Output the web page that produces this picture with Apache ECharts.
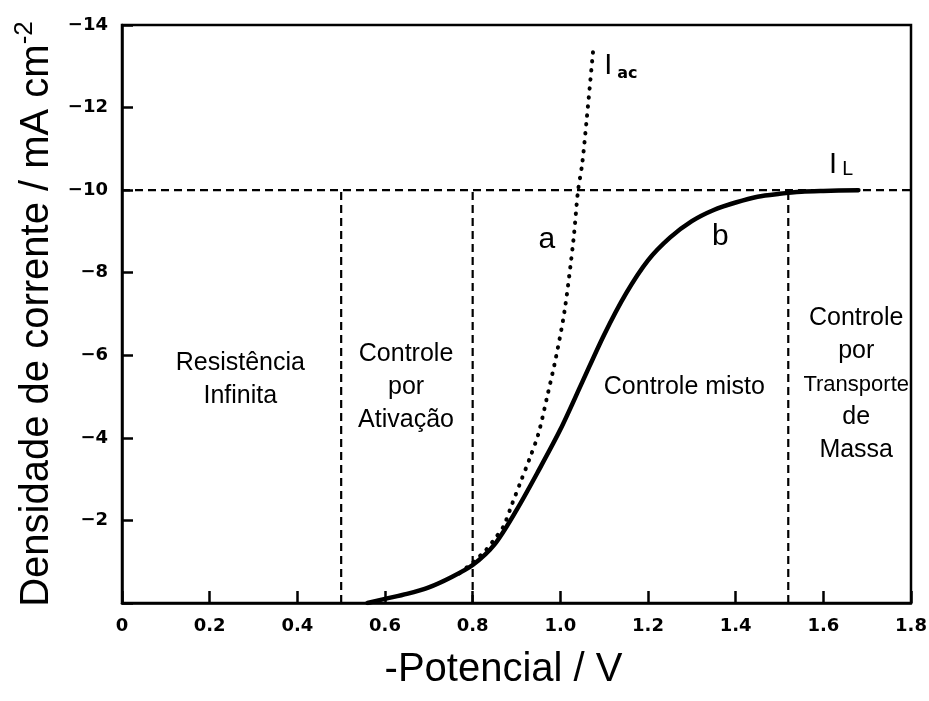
<!DOCTYPE html>
<html>
<head>
<meta charset="utf-8">
<script src="https://cdn.jsdelivr.net/npm/echarts@6/dist/echarts.min.js"></script>
<style>
  html, body { margin: 0; padding: 0; background: #fff; }
  #chart { width: 929px; height: 701px; }
</style>
</head>
<body>
<div id="chart"></div>
<script>
// ---- data ----
const solidX = [0.56, 0.60, 0.65, 0.70, 0.75, 0.80, 0.85, 0.90, 0.95, 1.00, 1.05, 1.10, 1.15, 1.20, 1.25, 1.30, 1.35, 1.40, 1.45, 1.50, 1.55, 1.60, 1.68];
const solidY = [0, -0.10, -0.22, -0.38, -0.62, -0.92, -1.42, -2.25, -3.20, -4.20, -5.35, -6.50, -7.50, -8.30, -8.85, -9.25, -9.52, -9.70, -9.84, -9.91, -9.96, -9.98, -10.0];

const dotX = [0.77, 0.80, 0.83, 0.85, 0.87, 0.89, 0.91, 0.93, 0.95, 0.97, 0.99, 1.01, 1.03, 1.04, 1.05, 1.06, 1.075];
const dotY = [-0.72, -0.98, -1.28, -1.55, -1.85, -2.40, -2.95, -3.50, -4.10, -5.00, -5.95, -7.10, -8.80, -9.95, -10.65, -11.70, -13.40];

const boundaries = [0.5, 0.8, 1.52];   // vertical dashed lines (V)
const limitCurrent = -10;              // horizontal dashed line (mA cm-2)

const xTicks = [0, 0.2, 0.4, 0.6, 0.8, 1.0, 1.2, 1.4, 1.6, 1.8];
const xTickLabels = ['0', '0.2', '0.4', '0.6', '0.8', '1.0', '1.2', '1.4', '1.6', '1.8'];
const yTicks = [0, -2, -4, -6, -8, -10, -12, -14];
const yTickLabels = ['', '\u22122', '\u22124', '\u22126', '\u22128', '\u221210', '\u221212', '\u221214'];

const regionTexts = ['Resistência\nInfinita', 'Controle\npor\nAtivação', 'Controle misto', 'Controle\npor\n{t|Transporte}\nde\nMassa'];
const regionX = [0.27, 0.648, 1.283, 1.675];
const regionY = [-5.41, -5.22, -5.22, -5.29];

const letterTexts = ['a', 'b'];
const letterX = [0.969, 1.365];
const letterY = [-8.81, -8.88];

// ---- chart ----
const chart = echarts.init(document.getElementById('chart'), null, { renderer: 'canvas' });

const zip = (xs, ys) => xs.map((x, i) => [x, ys[i]]);
const dashStyle = { color: '#000', width: 2.2, type: [8, 5] };
const textBase = { show: true, position: 'inside', color: '#000', textBorderWidth: 0, textShadowBlur: 0 };
const textItem = { color: '#000', opacity: 1 };

const series = [];
series.push({
  type: 'line', data: [[0, limitCurrent], [1.8, limitCurrent]],
  symbol: 'none', lineStyle: dashStyle, silent: true, z: 2
});
boundaries.forEach(b => series.push({
  type: 'line', data: [[b, 0], [b, limitCurrent]],
  symbol: 'none', lineStyle: dashStyle, silent: true, z: 2
}));
series.push({
  type: 'line', data: zip(dotX, dotY), smooth: 0.3, symbol: 'none',
  lineStyle: { color: '#000', width: 4, type: [0.5, 8.5], cap: 'round' }, z: 3
});
series.push({
  type: 'line', data: zip(solidX, solidY), smooth: 0.3, symbol: 'none',
  lineStyle: { color: '#000', width: 4.5, cap: 'round', join: 'round' }, z: 4
});
series.push({
  type: 'scatter', symbolSize: 0, silent: true, z: 5,
  itemStyle: textItem,
  data: regionTexts.map((t, i) => ({ value: [regionX[i], regionY[i]], name: t })),
  label: Object.assign({}, textBase, {
    formatter: p => p.name,
    fontFamily: 'Liberation Sans, Arial, sans-serif', fontSize: 25,
    lineHeight: 33, align: 'center',
    rich: { t: { fontFamily: 'Liberation Sans, Arial, sans-serif', fontSize: 22, lineHeight: 33, color: '#000' } }
  })
});
series.push({
  type: 'scatter', symbolSize: 0, silent: true, z: 5,
  itemStyle: textItem,
  data: letterTexts.map((t, i) => ({ value: [letterX[i], letterY[i]], name: t })),
  label: Object.assign({}, textBase, {
    formatter: p => p.name,
    fontFamily: 'Liberation Sans, Arial, sans-serif', fontSize: 30
  })
});
series.push({
  type: 'scatter', symbolSize: 0, silent: true, z: 5,
  itemStyle: textItem,
  data: [
    { value: [1.138, -13.0], name: '{i|I}{s|ac}' },
    { value: [1.64, -10.62], name: '{i|I}{l|L}' }
  ],
  label: Object.assign({}, textBase, {
    formatter: p => p.name,
    rich: {
      i: { fontFamily: 'Liberation Sans, Arial, sans-serif', fontSize: 29, color: '#000', padding: [0, 5, 0, 0] },
      s: { fontFamily: 'DejaVu Sans, sans-serif', fontWeight: 'bold', fontSize: 16, color: '#000', padding: [16, 0, 0, 0] },
      l: { fontFamily: 'DejaVu Sans, sans-serif', fontSize: 19, color: '#000', padding: [12, 0, 0, 0] }
    }
  })
});

const option = {
  animation: false,
  backgroundColor: '#fff',
  grid: { left: 122, right: 18, top: 25, bottom: 98, outerBoundsMode: 'none', containLabel: false,
          show: true, borderColor: '#000', borderWidth: 2.5, backgroundColor: 'transparent' },
  xAxis: {
    type: 'value', min: 0, max: 1.8, interval: 0.2,
    name: '-Potencial / V', nameLocation: 'middle', nameGap: 47,
    nameTextStyle: { fontFamily: 'Liberation Sans, Arial, sans-serif', fontSize: 40, color: '#000', padding: [0, 26, 0, 0] },
    axisLine: { show: true, lineStyle: { color: '#000', width: 2.5 } },
    axisTick: { show: true, inside: true, length: 12, lineStyle: { color: '#000', width: 2.5 } },
    axisLabel: {
      margin: 14, color: '#000', fontFamily: 'DejaVu Sans, sans-serif', fontWeight: 'bold', fontSize: 18,
      formatter: v => { const i = xTicks.findIndex(t => Math.abs(t - v) < 1e-6); return i >= 0 ? xTickLabels[i] : ''; }
    },
    splitLine: { show: false }
  },
  yAxis: {
    type: 'value', min: -14, max: 0, interval: 2, inverse: true,
    name: '{n|Densidade de corrente / mA cm}{sup|-2}', nameLocation: 'middle', nameGap: 51, nameRotate: 90,
    nameTextStyle: {
      rich: {
        n: { fontFamily: 'Liberation Sans, Arial, sans-serif', fontSize: 40, color: '#000' },
        sup: { fontFamily: 'Liberation Sans, Arial, sans-serif', fontSize: 26, color: '#000', padding: [0, 0, 24, 0] }
      }
    },
    axisLine: { show: true, lineStyle: { color: '#000', width: 2.5 } },
    axisTick: { show: true, inside: true, length: 11, lineStyle: { color: '#000', width: 2.5 } },
    axisLabel: {
      margin: 14, color: '#000', fontFamily: 'DejaVu Sans, sans-serif', fontWeight: 'bold', fontSize: 18,
      formatter: v => { const i = yTicks.findIndex(t => Math.abs(t - v) < 1e-6); return i >= 0 ? yTickLabels[i] : ''; }
    },
    splitLine: { show: false }
  },
  series: series
};
chart.setOption(option);
</script>
</body>
</html>
